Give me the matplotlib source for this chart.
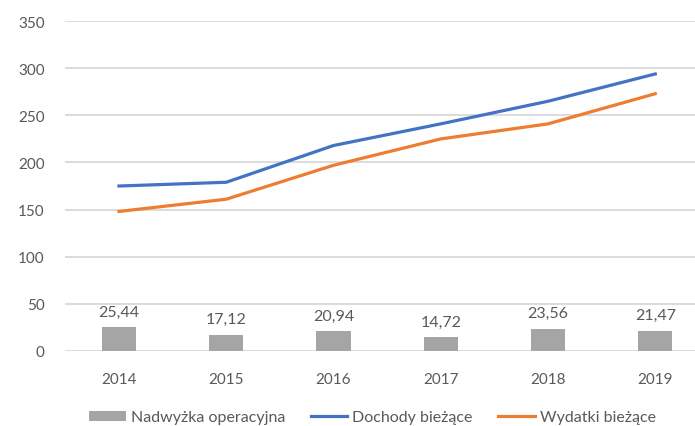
import matplotlib
matplotlib.use("Agg")
import matplotlib.pyplot as plt
import numpy as np

# dane
lata = ["2014", "2015", "2016", "2017", "2018", "2019"]
nadwyzka = [25.44, 17.12, 20.94, 14.72, 23.56, 21.47]
dochody = [175, 179, 218, 241, 265, 294]
wydatki = [148, 161, 197, 225, 241, 273]

plt.rcParams['font.family'] = ['Lato', 'DejaVu Sans']
szary_tekst = '#595959'

fig = plt.figure(figsize=(6.95, 4.27), dpi=100)
ax = fig.add_axes([0.094, 0.176, 0.926, 0.772])

x = np.arange(len(lata))
slupki = ax.bar(x, nadwyzka, width=0.32, color='#A5A5A5', label='Nadwyżka operacyjna', zorder=2)
l1, = ax.plot(x, dochody, color='#4472C4', linewidth=2.3, label='Dochody bieżące', zorder=3)
l2, = ax.plot(x, wydatki, color='#ED7D31', linewidth=2.3, label='Wydatki bieżące', zorder=3)

for xi, v in zip(x, nadwyzka):
    ax.annotate(f"{v:.2f}".replace('.', ','), (xi, v), xytext=(0, 6),
                textcoords='offset points', ha='center', va='bottom',
                fontsize=11.5, color=szary_tekst)

ax.set_xlim(-0.5, len(lata) - 0.5)
ax.set_ylim(0, 350)
ax.set_yticks(range(0, 351, 50))
ax.set_xticks(x)
ax.set_xticklabels(lata)
ax.tick_params(axis='both', length=0, labelsize=11, colors=szary_tekst)
ax.tick_params(axis='x', pad=15)
ax.tick_params(axis='y', pad=15)
ax.grid(axis='y', color='#D9D9D9', linewidth=1.3, zorder=0)
ax.set_axisbelow(True)
for s in ax.spines.values():
    s.set_visible(False)

fig.legend([slupki, l1, l2], ['Nadwyżka operacyjna', 'Dochody bieżące', 'Wydatki bieżące'],
           loc='lower center', bbox_to_anchor=(0.536, -0.03), ncol=3, frameon=False,
           fontsize=11.5, labelcolor=szary_tekst, handlelength=2.3, handleheight=0.55,
           columnspacing=1.6, handletextpad=0.3)

fig.savefig('out.png', dpi=100)
